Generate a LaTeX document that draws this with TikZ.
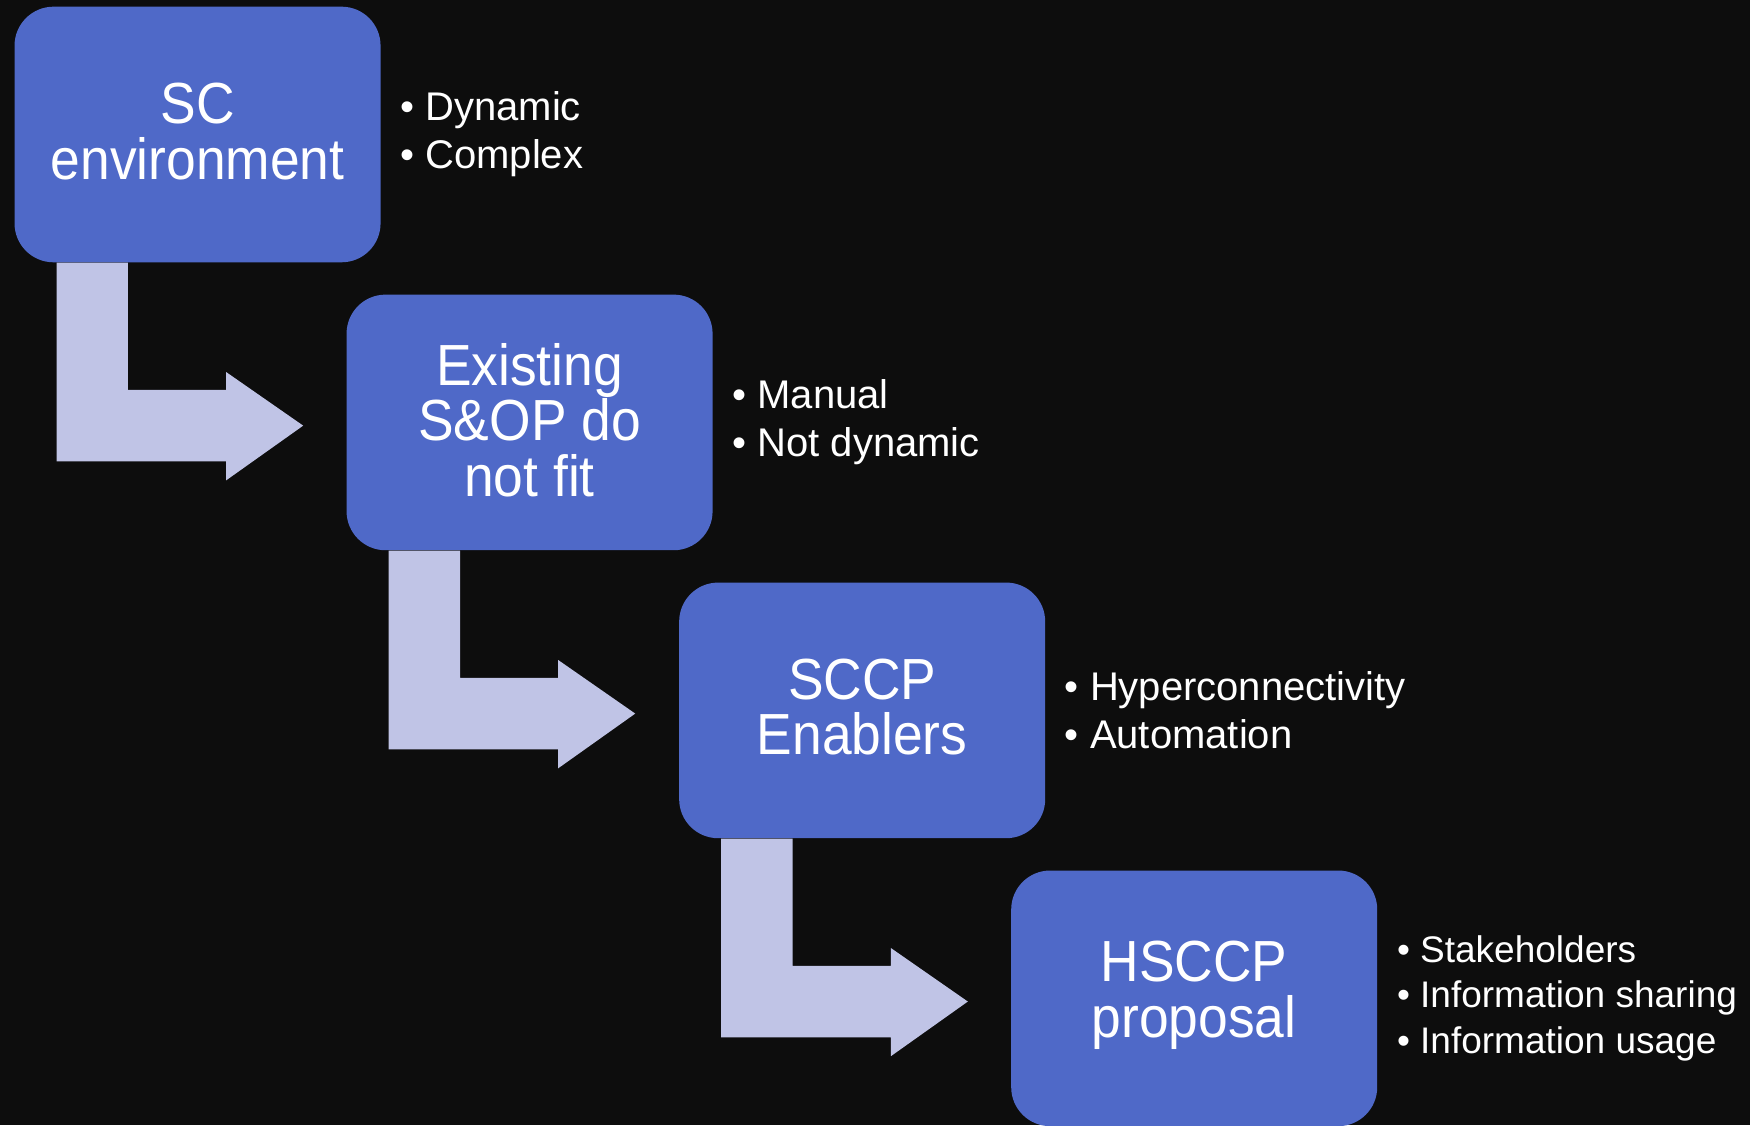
\documentclass[tikz,border=0pt]{standalone}
\usepackage{fontspec}
\setmainfont{Liberation Sans}
\newfontfamily\boxfont{Liberation Sans}[FakeStretch=0.92]
\usetikzlibrary{calc}
\definecolor{bgc}{HTML}{0D0D0D}
\definecolor{boxc}{HTML}{4F69C8}
\definecolor{arrc}{HTML}{C0C4E6}
\tikzset{
  stepbox/.style={fill=boxc, rounded corners=19.5pt, minimum width=183pt, minimum height=127.8pt,
    inner sep=0pt, text=white, align=center, font=\boxfont\fontsize{29}{27.9}\selectfont},
  boxtext/.style={text=white, align=center, inner sep=0pt, font=\boxfont\fontsize{29}{27.9}\selectfont},
  bullets/.style={anchor=west, text=white, align=left, inner sep=0pt,
    font=\fontsize{20}{24}\selectfont},
  bentarrow/.style={fill=arrc}
}
\begin{document}
\begin{tikzpicture}[x=0.558pt,y=-0.558pt]
\fill[bgc] (0,0) rectangle (1568,1008);
\useasboundingbox (0,0) rectangle (1568,1008);

\node[stepbox] (b1) at (177,120.5) {};
\node[stepbox] (b2) at (474.5,378.5) {};
\node[stepbox] (b3) at (772.5,636.5) {};
\node[stepbox] (b4) at (1070,894.5) {};

\node[boxtext] (l1) at ($(b1.center)+(0,-3)$) {SC\\environment};
\node[boxtext] (l2) at ($(b2.center)+(0,-2)$) {Existing\\S\&OP do\\not fit};
\node[boxtext] (l3) at ($(b3.center)+(0,-3)$) {SCCP\\Enablers};
\node[boxtext] (l4) at ($(b4.center)+(0,-3)$) {HSCCP\\proposal};

\node[bullets] (t1) at ($(b1.east)+(17,0)$) {• Dynamic\\• Complex};
\node[bullets] (t2) at ($(b2.east)+(17,0)$) {• Manual\\• Not dynamic};
\node[bullets] (t3) at ($(b3.east)+(17,0)$) {• Hyperconnectivity\\• Automation};
\node[bullets, font=\fontsize{18.5}{22.6}\selectfont] (t4) at ($(b4.east)+(17,0)$) {• Stakeholders\\• Information sharing\\• Information usage};

\foreach \s in {b1,b2,b3}{
  \fill[bentarrow] ($(\s.south west)+(38,0)$) -- ($(\s.south west)+(102,0)$)
    -- ($(\s.south west)+(102,114)$) -- ($(\s.south west)+(190,114)$)
    -- ($(\s.south west)+(190,98)$) -- ($(\s.south west)+(259,146)$)
    -- ($(\s.south west)+(190,195)$) -- ($(\s.south west)+(190,178)$)
    -- ($(\s.south west)+(38,178)$) -- cycle;
}
\end{tikzpicture}
\end{document}
